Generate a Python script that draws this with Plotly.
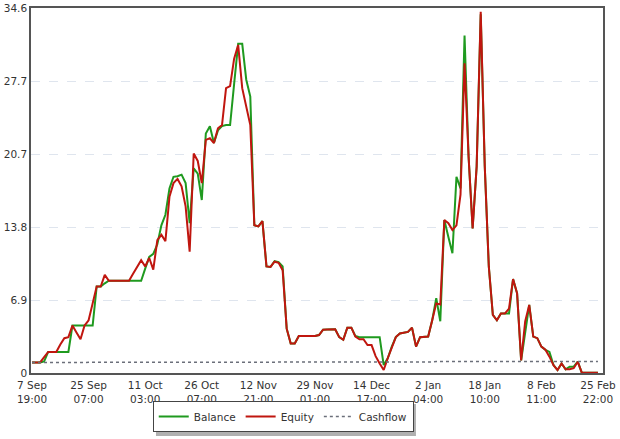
import plotly.graph_objects as go

# ---- data ----
tick_labels = ["7 Sep<br>19:00", "25 Sep<br>07:00", "11 Oct<br>03:00", "26 Oct<br>07:00",
               "12 Nov<br>21:00", "29 Nov<br>01:00", "14 Dec<br>17:00", "2 Jan<br>04:00",
               "18 Jan<br>10:00", "8 Feb<br>11:00", "25 Feb<br>22:00"]
tick_index = [0, 14, 28, 42, 56, 70, 84, 98, 112, 126, 140]

equity = [
    1.0, 1.0, 1.0, 1.5, 2.0, 2.0, 2.0, 2.7, 3.3, 3.4,
    4.5, 3.85, 3.2, 4.5, 5.0, 6.6, 8.2, 8.2, 9.3, 8.75,
    8.75, 8.75, 8.75, 8.75, 8.75, 9.4, 10.0, 10.7, 10.1, 10.9,
    9.8, 12.6, 13.1, 12.5, 16.7, 18.0, 18.4, 17.7, 15.8, 11.5,
    20.8, 20.1, 18.0, 22.1, 22.25, 21.8, 23.2, 23.5, 27.0, 27.2,
    29.8, 31.1, 27.0, 25.25, 23.5, 14.0, 13.9, 14.4, 10.1, 10.05,
    10.55, 10.45, 9.75, 4.2, 2.8, 2.8, 3.5, 3.5, 3.5, 3.5,
    3.5, 3.6, 4.1, 4.12, 4.13, 4.15, 3.4, 3.15, 4.3, 4.3,
    3.45, 3.2, 3.2, 2.65, 2.65, 1.6, 0.9, 0.28, 1.4, 2.5,
    3.4, 3.75, 3.8, 3.9, 4.3, 2.5, 3.4, 3.4, 3.45, 5.0,
    6.6, 6.5, 14.5, 14.2, 13.55, 14.0, 16.9, 29.35, 20.5, 13.7,
    19.6, 34.25, 19.6, 10.1, 5.5, 5.0, 5.65, 5.65, 6.1, 8.9,
    7.55, 1.2, 4.9, 6.45, 3.45, 3.3, 2.5, 2.2, 1.55, 0.75,
    0.28, 0.9, 0.35, 0.35, 0.45, 1.07, 0.03, 0.03, 0.03, 0.03,
    0.03,
]

balance = [
    1.0, 1.0, 1.0, 1.1, 2.0, 2.0, 2.0, 2.0, 2.0, 2.0,
    4.5, 4.5, 4.5, 4.5, 4.5, 4.5, 8.2, 8.2, 8.5, 8.75,
    8.75, 8.75, 8.75, 8.75, 8.75, 8.75, 8.75, 8.75, 9.9, 11.0,
    11.3, 12.2, 14.0, 15.0, 17.5, 18.6, 18.65, 18.8, 18.0, 14.2,
    19.4, 18.9, 16.4, 22.7, 23.4, 21.8, 23.0, 23.4, 23.5, 23.5,
    27.4, 31.2, 31.2, 27.8, 26.2, 14.0, 13.9, 14.4, 10.1, 10.05,
    10.6, 10.5, 10.1, 4.2, 2.8, 2.8, 3.5, 3.5, 3.5, 3.5,
    3.5, 3.6, 4.1, 4.12, 4.13, 4.15, 3.4, 3.15, 4.3, 4.3,
    3.5, 3.4, 3.4, 3.4, 3.4, 3.4, 3.4, 0.75, 1.4, 2.5,
    3.4, 3.75, 3.8, 3.9, 4.3, 2.5, 3.4, 3.4, 3.45, 5.0,
    7.1, 4.9, 14.5, 12.9, 11.35, 18.6, 17.5, 32.0, 20.5, 13.7,
    19.6, 34.0, 19.6, 10.1, 5.5, 5.0, 5.65, 5.65, 5.65, 8.9,
    7.55, 1.2, 4.0, 6.45, 3.45, 3.3, 2.5, 2.2, 2.0, 0.75,
    0.28, 0.9, 0.35, 0.6, 0.6, 1.07, 0.03, 0.03, 0.03, 0.03,
    0.03,
]

cashflow = [
    1.0, 1.0, 1.0, 1.0, 1.0, 1.0, 1.0, 1.0, 1.0, 1.0,
    1.0, 1.0, 1.0, 1.0, 1.0, 1.0, 1.0, 1.0, 1.0, 1.0,
    1.0, 1.0, 1.0, 1.0, 1.0, 1.0, 1.0, 1.0, 1.0, 1.0,
    1.0, 1.0, 1.0, 1.0, 1.0, 1.0, 1.0, 1.0, 1.0, 1.0,
    1.0, 1.0, 1.0, 1.0, 1.0, 1.0, 1.0, 1.0, 1.0, 1.0,
    1.0, 1.0, 1.0, 1.0, 1.0, 1.0, 1.0, 1.0, 1.0, 1.0,
    1.05, 1.05, 1.05, 1.05, 1.05, 1.05, 1.05, 1.05, 1.05, 1.05,
    1.05, 1.05, 1.05, 1.05, 1.05, 1.05, 1.05, 1.05, 1.05, 1.05,
    1.05, 1.05, 1.05, 1.05, 1.05, 1.05, 1.05, 1.05, 1.05, 1.05,
    1.05, 1.05, 1.05, 1.05, 1.05, 1.05, 1.05, 1.05, 1.05, 1.05,
    1.1, 1.1, 1.1, 1.1, 1.1, 1.1, 1.1, 1.1, 1.1, 1.1,
    1.1, 1.1, 1.1, 1.1, 1.1, 1.1, 1.1, 1.1, 1.1, 1.1,
    1.1, 1.1, 1.1, 1.1, 1.1, 1.1, 1.1, 1.1, 1.1, 1.1,
    1.1, 1.1, 1.1, 1.1, 1.1, 1.1, 1.1, 1.1, 1.1, 1.1,
    1.1,
]

y_ticks = [0, 6.92, 13.84, 20.76, 27.68, 34.6]
y_tick_text = ["0", "6.9", "13.8", "20.7", "27.7", "34.6"]

x = list(range(len(equity)))

fig = go.Figure()
fig.add_trace(go.Scatter(x=x, y=balance, mode="lines", name="Balance",
                         line=dict(color="#1f9a1f", width=2)))
fig.add_trace(go.Scatter(x=x, y=equity, mode="lines", name="Equity",
                         line=dict(color="#c0160f", width=2)))
fig.add_trace(go.Scatter(x=x, y=cashflow, mode="lines", name="Cashflow",
                         line=dict(color="#6b6f7a", width=1.5, dash="dot")))

font = dict(family="DejaVu Sans, Verdana, sans-serif", size=10.5, color="#333333")

# soft shadow behind the legend box
fig.add_shape(type="rect", xref="paper", yref="paper",
              x0=0.2185, x1=0.673, y0=-0.0849, y1=-0.1726,
              fillcolor="#b0b0b0", line=dict(width=0), layer="above")

fig.update_layout(
    width=620, height=439,
    margin=dict(l=31, r=17, t=8, b=66, autoexpand=False),
    paper_bgcolor="white", plot_bgcolor="white",
    font=font,
    showlegend=True,
    legend=dict(orientation="h", x=0.441, xanchor="center", y=-0.0767, yanchor="top",
                bordercolor="#444444", borderwidth=1, bgcolor="white",
                font=dict(family="DejaVu Sans, Verdana, sans-serif", size=10.5, color="#333333"),
                itemwidth=30, tracegroupgap=0),
)
fig.update_xaxes(range=[-0.25, 141.25], tickmode="array", tickvals=tick_index,
                 ticktext=tick_labels, showgrid=False, zeroline=False,
                 showline=True, linecolor="#555555", linewidth=1.5, mirror=True,
                 ticks="", ticklen=0, ticklabelstandoff=2)
fig.update_yaxes(range=[0, 34.6], tickmode="array", tickvals=y_ticks, ticktext=y_tick_text,
                 showgrid=True, gridcolor="#dfe5ee", griddash="dash", gridwidth=1,
                 zeroline=False, showline=True, linecolor="#555555", linewidth=1.5,
                 mirror=True, ticks="", ticklen=0)

fig.write_html("out.html")
